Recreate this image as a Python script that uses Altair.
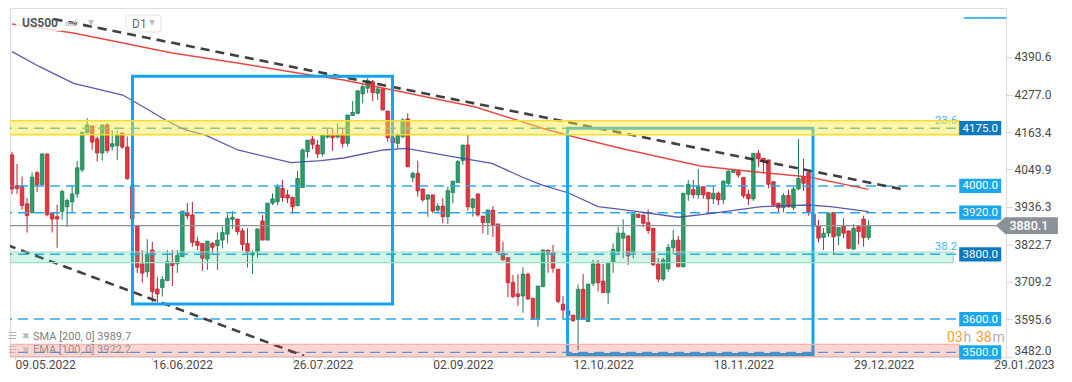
import altair as alt
import pandas as pd

# ---------------- candles (bar index 0 = 09.05.2022, one bar per weekday) ----------------
opens = [4094, 4001, 4000, 3946, 3919, 4040, 4004, 4097, 3918, 3907,
         3923, 3937, 3952, 3976, 4049, 4161, 4182, 4143, 4100, 4185,
         4119, 4122, 4160, 4118, 4000, 3879, 3764, 3740, 3806, 3688,
         3692, 3713, 3768, 3764, 3786, 3919, 3912, 3832, 3826, 3779,
         3826, 3819, 3836, 3854, 3899, 3900, 3864, 3826, 3791, 3801,
         3894, 3836, 3948, 3952, 3993, 3973, 3965, 3940, 3995, 4104,
         4142, 4124, 4097, 4148, 4154, 4148, 4154, 4129, 4213, 4220,
         4279, 4296, 4316, 4281, 4294, 4227, 4146, 4129, 4149, 4203,
         4025, 4038, 3991, 3960, 3973, 3927, 3939, 3907, 3980, 4010,
         4077, 4124, 3935, 3976, 3909, 3889, 3927, 3885, 3796, 3783,
         3708, 3673, 3667, 3733, 3660, 3596, 3695, 3806, 3798, 3748,
         3642, 3622, 3609, 3596, 3687, 3589, 3705, 3764, 3712, 3677,
         3768, 3801, 3842, 3849, 3798, 3915, 3912, 3889, 3872, 3763,
         3718, 3749, 3813, 3836, 3756, 3975, 3989, 3973, 3998, 3981,
         3961, 3978, 3958, 4008, 4041, 4046, 4026, 3975, 3961, 4099,
         4084, 4079, 4013, 3948, 3934, 3971, 3934, 3991, 4028, 4041,
         3915, 3880, 3844, 3857, 3920, 3849, 3880, 3864, 3809, 3877,
         3900, 3844]
highs = [4103, 4067, 4029, 3964, 4041, 4046, 4100, 4097, 3920, 3943,
         3989, 3962, 4000, 4076, 4163, 4205, 4182, 4150, 4185, 4190,
         4168, 4168, 4163, 4150, 4015, 3879, 3806, 3839, 3831, 3725,
         3727, 3806, 3806, 3806, 3924, 3948, 3952, 3846, 3826, 3833,
         3831, 3859, 3877, 3914, 3924, 3900, 3872, 3872, 3806, 3870,
         3912, 3948, 3978, 4005, 4018, 3988, 3968, 4045, 4114, 4139,
         4151, 4139, 4157, 4175, 4175, 4190, 4175, 4215, 4257, 4291,
         4308, 4328, 4321, 4301, 4294, 4227, 4160, 4160, 4205, 4220,
         4043, 4076, 3991, 3973, 3973, 3948, 3963, 3998, 4015, 4079,
         4124, 4157, 3963, 3976, 3909, 3929, 3939, 3885, 3831, 3783,
         3730, 3733, 3754, 3737, 3660, 3697, 3808, 3806, 3821, 3748,
         3667, 3650, 3609, 3702, 3733, 3703, 3776, 3776, 3764, 3768,
         3826, 3877, 3899, 3849, 3917, 3915, 3912, 3929, 3872, 3781,
         3783, 3824, 3867, 3849, 3978, 4018, 4018, 4051, 3998, 3981,
         3998, 3983, 4015, 4048, 4051, 4046, 4026, 3989, 4099, 4109,
         4084, 4079, 4013, 3948, 3978, 3989, 3998, 4142, 4082, 4041,
         3925, 3897, 3872, 3920, 3920, 3874, 3902, 3864, 3884, 3882,
         3910, 3897]
lows = [3975, 3976, 3928, 3859, 3917, 3982, 4003, 3908, 3859, 3813,
        3898, 3876, 3919, 3964, 4042, 4160, 4109, 4074, 4077, 4100,
        4107, 4079, 4112, 4019, 3895, 3736, 3707, 3723, 3647, 3647,
        3665, 3713, 3697, 3737, 3786, 3899, 3816, 3806, 3743, 3746,
        3796, 3746, 3811, 3826, 3870, 3852, 3803, 3753, 3733, 3783,
        3836, 3836, 3942, 3942, 3952, 3948, 3917, 3940, 3995, 4086,
        4112, 4084, 4089, 4144, 4106, 4144, 4116, 4119, 4213, 4217,
        4250, 4281, 4257, 4260, 4230, 4134, 4125, 4114, 4146, 4058,
        4011, 3968, 3952, 3907, 3917, 3917, 3887, 3885, 3948, 4010,
        4064, 3925, 3907, 3907, 3857, 3852, 3846, 3796, 3774, 3663,
        3660, 3637, 3616, 3655, 3594, 3574, 3695, 3737, 3737, 3645,
        3599, 3590, 3589, 3503, 3594, 3589, 3697, 3680, 3675, 3643,
        3737, 3791, 3781, 3761, 3781, 3903, 3875, 3855, 3759, 3708,
        3712, 3740, 3793, 3753, 3753, 3955, 3963, 3961, 3961, 3917,
        3945, 3942, 3945, 4003, 4040, 4025, 3963, 3942, 3955, 4058,
        4038, 3993, 3942, 3920, 3920, 3934, 3927, 3988, 3985, 3910,
        3860, 3829, 3806, 3846, 3791, 3821, 3842, 3809, 3806, 3823,
        3816, 3836]
closes = [3991, 3992, 3941, 3910, 4027, 4004, 4097, 3913, 3900, 3900,
          3983, 3956, 3976, 4055, 4163, 4185, 4133, 4100, 4185, 4107,
          4128, 4155, 4118, 4022, 3900, 3754, 3736, 3794, 3680, 3673,
          3717, 3771, 3759, 3789, 3924, 3909, 3829, 3820, 3781, 3833,
          3814, 3836, 3859, 3902, 3905, 3862, 3823, 3799, 3798, 3870,
          3836, 3948, 3961, 3996, 3965, 3963, 3937, 4023, 4109, 4139,
          4126, 4097, 4154, 4154, 4146, 4154, 4129, 4215, 4223, 4288,
          4301, 4319, 4283, 4294, 4230, 4146, 4130, 4154, 4200, 4058,
          4038, 3985, 3958, 3973, 3924, 3939, 3907, 3986, 4015, 4074,
          4124, 3937, 3961, 3912, 3889, 3927, 3882, 3798, 3776, 3707,
          3665, 3665, 3733, 3658, 3596, 3697, 3806, 3798, 3751, 3650,
          3624, 3608, 3592, 3687, 3596, 3703, 3764, 3707, 3677, 3768,
          3808, 3857, 3857, 3788, 3915, 3905, 3887, 3865, 3761, 3718,
          3776, 3814, 3836, 3756, 3978, 4005, 3973, 3998, 3973, 3961,
          3978, 3958, 4015, 4045, 4048, 4033, 3970, 3961, 4099, 4082,
          4074, 4005, 3942, 3934, 3971, 3937, 3991, 4023, 4008, 3922,
          3878, 3842, 3857, 3917, 3846, 3874, 3857, 3811, 3872, 3862,
          3844, 3880.1]

# ---------------- moving averages (read at vertices) ----------------
sma_idx = [0, 12.25, 32, 45, 58.3, 66.2, 92.5, 105.7, 112.3, 122.1, 137.4, 148.6, 159.1, 171]
sma_val = [4490.5, 4463.3, 4402.7, 4372.4, 4339.1, 4320.9, 4239.2, 4175.6, 4148.3, 4112.0,
           4060.5, 4042.3, 4027.2, 3989.7]
ema_idx = [0, 5.5, 12.3, 22.1, 27.3, 30.6, 34.6, 38.5, 45.1, 55.7, 61.7, 66.2, 74.1, 78.7,
           87.9, 95.8, 101.8, 105.7, 111.1, 117, 123.5, 133, 139.7, 149.6, 158.7, 163.4, 171]
ema_val = [4406.7, 4361.2, 4311.0, 4275.5, 4230.1, 4199.8, 4169.5, 4154.4, 4109.0, 4070.5,
           4076.5, 4084.7, 4109.0, 4114.0, 4088.7, 4068.7, 4027.2, 4003.0, 3978.7, 3937.2,
           3925.1, 3905.2, 3917.2, 3937.2, 3942.4, 3937.2, 3922.2]

# ---------------- trend lines ----------------
trend_a_idx = [8.3, 177.5]
trend_a_val = [4505.7, 3990.8]
trend_b_idx = [-1.0, 58.3]
trend_b_val = [3821.3, 3485.1]

# ---------------- horizontal levels ----------------
level_text = ["4175.0", "4000.0", "3920.0", "3800.0", "3600.0", "3500.0"]
level_price = [4175, 4000, 3919, 3793, 3597, 3496]
level_kind = ["zone", "line", "line", "zone", "line", "line"]

zone_lo = [4155.3, 3768.0, 3483.0]
zone_hi = [4197.7, 3800.0, 3520.5]
zone_end = [189.1, 187.9, 189.1]

fib_text = ["23.6", "38.2"]
fib_price = [4189, 3806]

# ---------------- drawn boxes ----------------
box_x0 = [24.05, 110.9]
box_x1 = [75.95, 159.9]
box_lo = [3642.6, 3489.6]
box_hi = [4332.2, 4174.7]

last_price = 3880.1
sma_last = "3989.7"
ema_last = "3922.2"

y_ticks = [4390.6, 4277.0, 4163.4, 4049.9, 3936.3, 3822.7, 3709.2, 3595.6, 3482.0]
date_labels = ["09.05.2022", "16.06.2022", "26.07.2022", "02.09.2022",
               "12.10.2022", "18.11.2022", "29.12.2022", "29.01.2023"]
date_step = 28

# ---------------- layout / style constants ----------------
X_DOM = [0.593, 197.43]
Y_DOM = [3482.0, 4539.0]
W, H = 996, 349
LEVEL_X0, LEVEL_X1 = -2, 189.1
PRICE_X1 = 196.6
LABEL_X = 193.28
TAG_X = 202.6
FIB_X = 188.7
FIRST_TICK = 0.6
FONT = "Roboto"
UP, DOWN = "#2b9e6b", "#e5353f"
UP_D, DOWN_D = "#1d7a50", "#b4222e"
BLUE = "#14a4ee"

label_expr = "[" + ",".join("'%s'" % d for d in date_labels) + "][round(datum.value/%d)]" % date_step
tick_vals = [max(k * date_step, FIRST_TICK) for k in range(len(date_labels))]

x_axis = alt.Axis(values=tick_vals, labelExpr=label_expr,
                  title=None, grid=False, domain=False, tickSize=3, tickColor="#c8c8c8",
                  labelAlign="left", labelPadding=-1, labelFontSize=12, labelColor="#4a4a4a",
                  labelFont=FONT)
y_axis = alt.Axis(orient="right", values=y_ticks, format=".1f", title=None, grid=False,
                  domain=False, tickSize=6, tickColor="#d5d5d5", labelPadding=2,
                  labelFontSize=12, labelColor="#4a4a4a", labelFont=FONT, labelFlush=True)


def X(f):
    return alt.X(f, scale=alt.Scale(domain=X_DOM, nice=False, zero=False), axis=x_axis)


def Y(f):
    return alt.Y(f, scale=alt.Scale(domain=Y_DOM, nice=False, zero=False), axis=y_axis)


N = len(opens)
df = pd.DataFrame({"i": list(range(N)), "o": opens, "h": highs, "l": lows, "c": closes})
df["dir"] = ["up" if c >= o else "down" for o, c in zip(opens, closes)]

layers = []

# wicks
layers.append(alt.Chart(df).mark_rule(strokeWidth=1, clip=True).encode(
    x=X("i:Q"), y=Y("l:Q"), y2="h:Q",
    color=alt.Color("dir:N", scale=alt.Scale(domain=["up", "down"], range=[UP_D, DOWN_D]), legend=None)))
# bodies
layers.append(alt.Chart(df).mark_bar(size=3.6, strokeWidth=0.7, clip=True).encode(
    x=X("i:Q"), y=Y("o:Q"), y2="c:Q",
    fill=alt.Fill("dir:N", scale=alt.Scale(domain=["up", "down"], range=[UP, DOWN]), legend=None),
    stroke=alt.Stroke("dir:N", scale=alt.Scale(domain=["up", "down"], range=[UP_D, DOWN_D]), legend=None)))

# level dashed lines
lv = pd.DataFrame({"p": level_price, "t": level_text, "kind": level_kind})
lv["x0"] = LEVEL_X0
lv["x1"] = LEVEL_X1
lv["lx"] = LABEL_X
layers.append(alt.Chart(lv).mark_rule(strokeDash=[10, 6], strokeWidth=1.4, color="#2aa8ee", clip=True).encode(
    x=X("x0:Q"), x2="x1:Q", y=Y("p:Q")))

# current price line
cp = pd.DataFrame({"p": [last_price], "x0": [LEVEL_X0], "x1": [PRICE_X1], "tx": [TAG_X],
                   "t": ["%.1f" % last_price]})
layers.append(alt.Chart(cp).mark_rule(strokeWidth=1.2, color="#8c9298", clip=True).encode(
    x=X("x0:Q"), x2="x1:Q", y=Y("p:Q")))

# moving averages
sma = pd.DataFrame({"i": sma_idx, "v": sma_val})
ema = pd.DataFrame({"i": ema_idx, "v": ema_val})
layers.append(alt.Chart(sma).mark_line(color="#e3342f", strokeWidth=1.4, opacity=0.9, clip=True).encode(
    x=X("i:Q"), y=Y("v:Q")))
layers.append(alt.Chart(ema).mark_line(color="#3d3d9e", strokeWidth=1.3, opacity=0.85, clip=True).encode(
    x=X("i:Q"), y=Y("v:Q")))

# header background
hb = pd.DataFrame({"a": [0]})
layers.append(alt.Chart(hb).mark_rect(color="white", opacity=0.8).encode(
    x=alt.value(6), x2=alt.value(52), y=alt.value(5), y2=alt.value(23)))

# trend lines
ta = pd.DataFrame({"i": trend_a_idx, "v": trend_a_val})
tb = pd.DataFrame({"i": trend_b_idx, "v": trend_b_val})
for t in (ta, tb):
    layers.append(alt.Chart(t).mark_line(color="#2b2b2b", strokeWidth=2.6, strokeDash=[9, 6],
                                         opacity=0.9, clip=True).encode(x=X("i:Q"), y=Y("v:Q")))

# drawn boxes
bx = pd.DataFrame({"x0": box_x0, "x1": box_x1, "lo": box_lo, "hi": box_hi})
layers.append(alt.Chart(bx).mark_rect(fillOpacity=0, stroke=BLUE, strokeWidth=3, clip=True).encode(
    x=X("x0:Q"), x2="x1:Q", y=Y("lo:Q"), y2="hi:Q"))

# fib texts
fb = pd.DataFrame({"t": fib_text, "p": fib_price})
fb["x"] = FIB_X
layers.append(alt.Chart(fb).mark_text(align="right", baseline="alphabetic", color="#47b5f2",
                                      fontSize=11.5, font=FONT).encode(
    x=X("x:Q"), y=Y("p:Q"), text="t:N"))

# zones
zone_styles = [("#ffeb3b", 0.45, "#f3dc3a", 1.6), ("#2ecc8f", 0.2, "#97e0c4", 1.2), ("#f44336", 0.22, "#f5b3b0", 1.2)]
for lo, hi, end, (fc, fo, sc, sw) in zip(zone_lo, zone_hi, zone_end, zone_styles):
    zd = pd.DataFrame({"lo": [lo], "hi": [hi], "x0": [LEVEL_X0], "x1": [end]})
    layers.append(alt.Chart(zd).mark_rect(fill=fc, fillOpacity=fo, stroke=sc, strokeWidth=sw, clip=True).encode(
        x=X("x0:Q"), x2="x1:Q", y=Y("lo:Q"), y2="hi:Q"))

# level label boxes
BOX_PATH = "M-1,-0.34L1,-0.34L1,0.34L-1,0.34Z"
for kind, col in (("zone", "#0b78bf"), ("line", "#1ba7ef")):
    layers.append(alt.Chart(lv).transform_filter("datum.kind == '%s'" % kind).mark_point(
        shape=BOX_PATH, size=1764, filled=True, opacity=1, color=col, strokeWidth=0).encode(
        x=X("lx:Q"), y=Y("p:Q")))
layers.append(alt.Chart(lv).mark_text(color="white", fontSize=11.5, font=FONT, align="center",
                                      baseline="middle", dy=0.5).encode(
    x=X("lx:Q"), y=Y("p:Q"), text="t:N"))

# current price tag
TAG_PATH = "M-1,0L-0.7,-0.27L1,-0.27L1,0.27L-0.7,0.27Z"
layers.append(alt.Chart(cp).mark_point(shape=TAG_PATH, size=3844, filled=True, opacity=1,
                                       color="#8a9197", strokeWidth=0).encode(x=X("tx:Q"), y=Y("p:Q")))
layers.append(alt.Chart(cp).mark_text(color="white", fontSize=12.5, font=FONT, align="center",
                                      baseline="middle", dx=2, dy=0.5, fontWeight=500).encode(
    x=X("tx:Q"), y=Y("p:Q"), text="t:N"))


# UI overlay texts (header, legend, timer)
def ui_text(txt, x, y, **kw):
    d = pd.DataFrame({"t": [txt]})
    return alt.Chart(d).mark_text(font=FONT, baseline="middle", align="left", **kw).encode(
        x=alt.value(x), y=alt.value(y), text="t:N")


layers.append(alt.Chart(hb).mark_rect(fill="white", stroke="#e0e0e0", strokeWidth=1, cornerRadius=3).encode(
    x=alt.value(116), x2=alt.value(151), y=alt.value(7), y2=alt.value(24)))
layers.append(ui_text("US500", 12, 15, fontSize=12, fontWeight="bold", color="#555555"))
layers.append(ui_text("md", 55, 15.5, fontSize=8, fontWeight="bold", color="#b8b8b8"))
layers.append(ui_text("\u25BE", 78, 14, fontSize=12, color="#c0c0c0"))
layers.append(ui_text("D1", 122, 15.5, fontSize=12, color="#666666"))
layers.append(ui_text("\u25BE", 139, 14, fontSize=12, color="#c0c0c0"))

layers.append(ui_text("\u2630", -2, 328, fontSize=10, color="#b5b5b5"))
layers.append(ui_text("\u2716", 12, 328, fontSize=9, color="#b5b5b5"))
layers.append(ui_text("SMA [200,  0] " + sma_last, 23, 328.5, fontSize=11, color="#808080"))
layers.append(ui_text("\u2630", -2, 341.5, fontSize=10, color="#b5b5b5", opacity=0.8))
layers.append(ui_text("\u2716", 12, 341.5, fontSize=9, color="#b5b5b5", opacity=0.8))
layers.append(ui_text("EMA [100,  0] " + ema_last, 23, 342, fontSize=11, color="#808080", opacity=0.8))

layers.append(ui_text("03", 937, 329.5, fontSize=14, color="#f7a01e"))
layers.append(ui_text("h", 953.5, 329.5, fontSize=14, color="#b0b0b0"))
layers.append(ui_text("38", 966, 329.5, fontSize=14, color="#f7a01e"))
layers.append(ui_text("m", 982.5, 329.5, fontSize=14, color="#b0b0b0"))

layers.append(alt.Chart(hb).mark_rule(color="#14a4ee", strokeWidth=1.5).encode(
    x=alt.value(954), x2=alt.value(996), y=alt.value(10)))

chart = alt.layer(*layers).properties(width=W, height=H, padding=0).configure_view(
    stroke=None).configure(font=FONT, background="white")

chart.save("out.html", embed_options={"renderer": "svg", "actions": False})
